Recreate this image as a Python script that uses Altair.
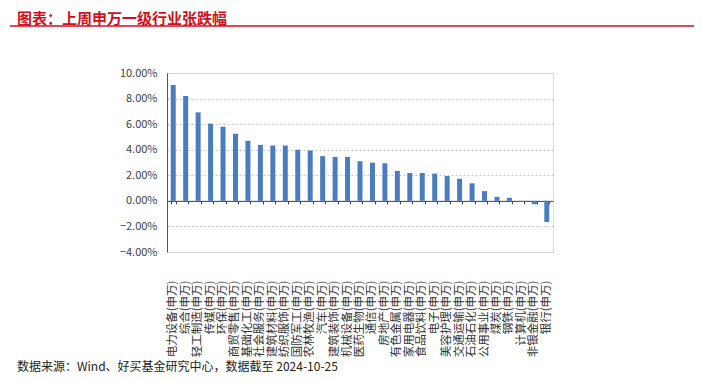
import altair as alt
import pandas as pd

categories = ["电力设备", "综合", "轻工制造", "传媒", "环保", "商贸零售", "基础化工", "社会服务",
              "建筑材料", "纺织服饰", "国防军工", "农林牧渔", "汽车", "建筑装饰", "机械设备", "医药生物",
              "通信", "房地产", "有色金属", "家用电器", "食品饮料", "电子", "美容护理", "交通运输",
              "石油石化", "公用事业", "煤炭", "钢铁", "计算机", "非银金融", "银行"]
values = [9.06, 8.20, 6.92, 6.04, 5.80, 5.25, 4.70, 4.38, 4.33, 4.33, 4.00, 3.94, 3.50, 3.44, 3.44, 3.10,
          2.99, 2.94, 2.34, 2.18, 2.18, 2.13, 1.94, 1.73, 1.37, 0.76, 0.31, 0.24, -0.08, -0.26, -1.65]
labels = [c + "(申万)" for c in categories]
y_ticks = [-4, -2, 0, 2, 4, 6, 8, 10]

title_text = "图表：上周申万一级行业张跌幅"
footer_text = "数据来源：Wind、好买基金研究中心，数据截至 2024-10-25"

df = pd.DataFrame({"label": labels, "value": values})

W, H = 386, 179
FONT = "Noto Sans CJK SC"

xscale = alt.Scale(paddingInner=0.6, paddingOuter=0.3)
yscale = alt.Scale(domain=[-4, 10], nice=False)

bars = alt.Chart(df).mark_bar(color="#4a7dbf").encode(
    x=alt.X("label:N", sort=None, scale=xscale,
            axis=alt.Axis(title=None, labelAngle=-90, domain=False, ticks=False, labelPadding=28,
                          labelFont=FONT, labelFontSize=11.5, labelColor="#333333", orient="bottom",
                          labelOverlap=False)),
    y=alt.Y("value:Q", scale=yscale,
            axis=alt.Axis(title=None, values=y_ticks, labelExpr="format(datum.value, '.2f') + '%'",
                          grid=True, gridColor="#c8c8c8", gridDash=[2, 2], domainColor="#555555",
                          ticks=False, labelPadding=10, labelFont=FONT, labelFontSize=11,
                          labelColor="#404040", labelOverlap=False)),
)

zero_axis = alt.Chart(df).mark_point(opacity=0).encode(
    x=alt.X("label:N", sort=None, scale=xscale,
            axis=alt.Axis(title=None, labels=False, orient="bottom", offset=-H * 4 / 14,
                          domainColor="#404040", tickColor="#404040", tickBand="extent",
                          tickSize=3, grid=False)),
)

title_mark = alt.Chart(pd.DataFrame({"t": [title_text]})).mark_text(
    align="left", baseline="middle", font=FONT, fontSize=15, fontWeight="bold", color="#d0101a"
).encode(x=alt.value(-150), y=alt.value(-54), text="t:N")

red_line = alt.Chart(pd.DataFrame({"a": [0]})).mark_rule(color="#d0101a", strokeWidth=1.5).encode(
    x=alt.value(-157), x2=alt.value(530), y=alt.value(-47))

footer_mark = alt.Chart(pd.DataFrame({"t": [footer_text]})).mark_text(
    align="left", baseline="middle", font=FONT, fontSize=12, color="#222222"
).encode(x=alt.value(-150), y=alt.value(294), text="t:N")

chart = alt.layer(bars, zero_axis, title_mark, red_line, footer_mark).resolve_axis(
    x="independent"
).properties(
    width=W, height=H,
    autosize=alt.AutoSizeParams(type="none"),
    padding={"left": 159, "top": 65, "right": 141, "bottom": 126},
).configure_view(stroke=None).configure(background="white")

chart.save("out.html", embed_options={"renderer": "svg", "actions": False})
